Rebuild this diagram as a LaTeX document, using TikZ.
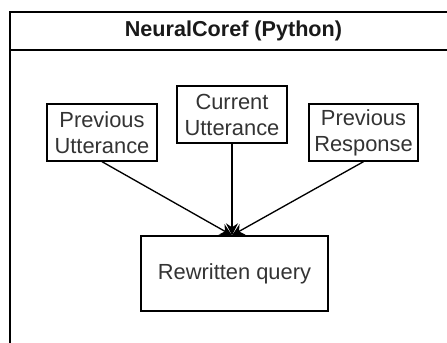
\documentclass[tikz,border=0pt]{standalone}
\usepackage{fontspec}
\setmainfont{Liberation Sans}
\usetikzlibrary{arrows.meta}

\begin{document}
\begin{tikzpicture}[
  x=0.75pt, y=-0.75pt,
  box/.style={rectangle, draw, line width=1pt, align=center, inner sep=0pt,
              text=black!80, font=\fontsize{16.4}{19.5}\selectfont},
  arr/.style={-{Stealth[length=9pt, width=9pt, inset=3pt]}, line width=1pt},
  frame/.style={line width=1.1pt}
]
  \useasboundingbox (0,0) rectangle (447,343);

  % Container
  \draw[frame] (447,12) -- (10,12) -- (10,343);
  \draw[frame] (10,50) -- (447,50);
  \node[font=\bfseries\fontsize{16.2}{19.5}\selectfont, text=black!90] (title) at (233.5,31) {NeuralCoref (Python)};

  % Inputs
  \node[box, minimum width=82.5pt, minimum height=42.75pt] (prevutt) at (102,132.5) {Previous\\Utterance};
  \node[box, minimum width=82.5pt, minimum height=42.75pt] (currutt) at (232,114.5) {Current\\Utterance};
  \node[box, minimum width=81.75pt, minimum height=42.75pt] (prevresp) at (363.5,132.5) {Previous\\Response};

  % Output
  \node[box, minimum width=140.25pt, minimum height=56.25pt] (query) at (234.5,273.5) {Rewritten query};

  % Connections
  \draw[arr] (currutt.south) -- (currutt.south |- query.north);
  \draw[arr] (prevutt.south) -- (currutt.south |- query.north);
  \draw[arr] (prevresp.south) -- (currutt.south |- query.north);
\end{tikzpicture}
\end{document}
